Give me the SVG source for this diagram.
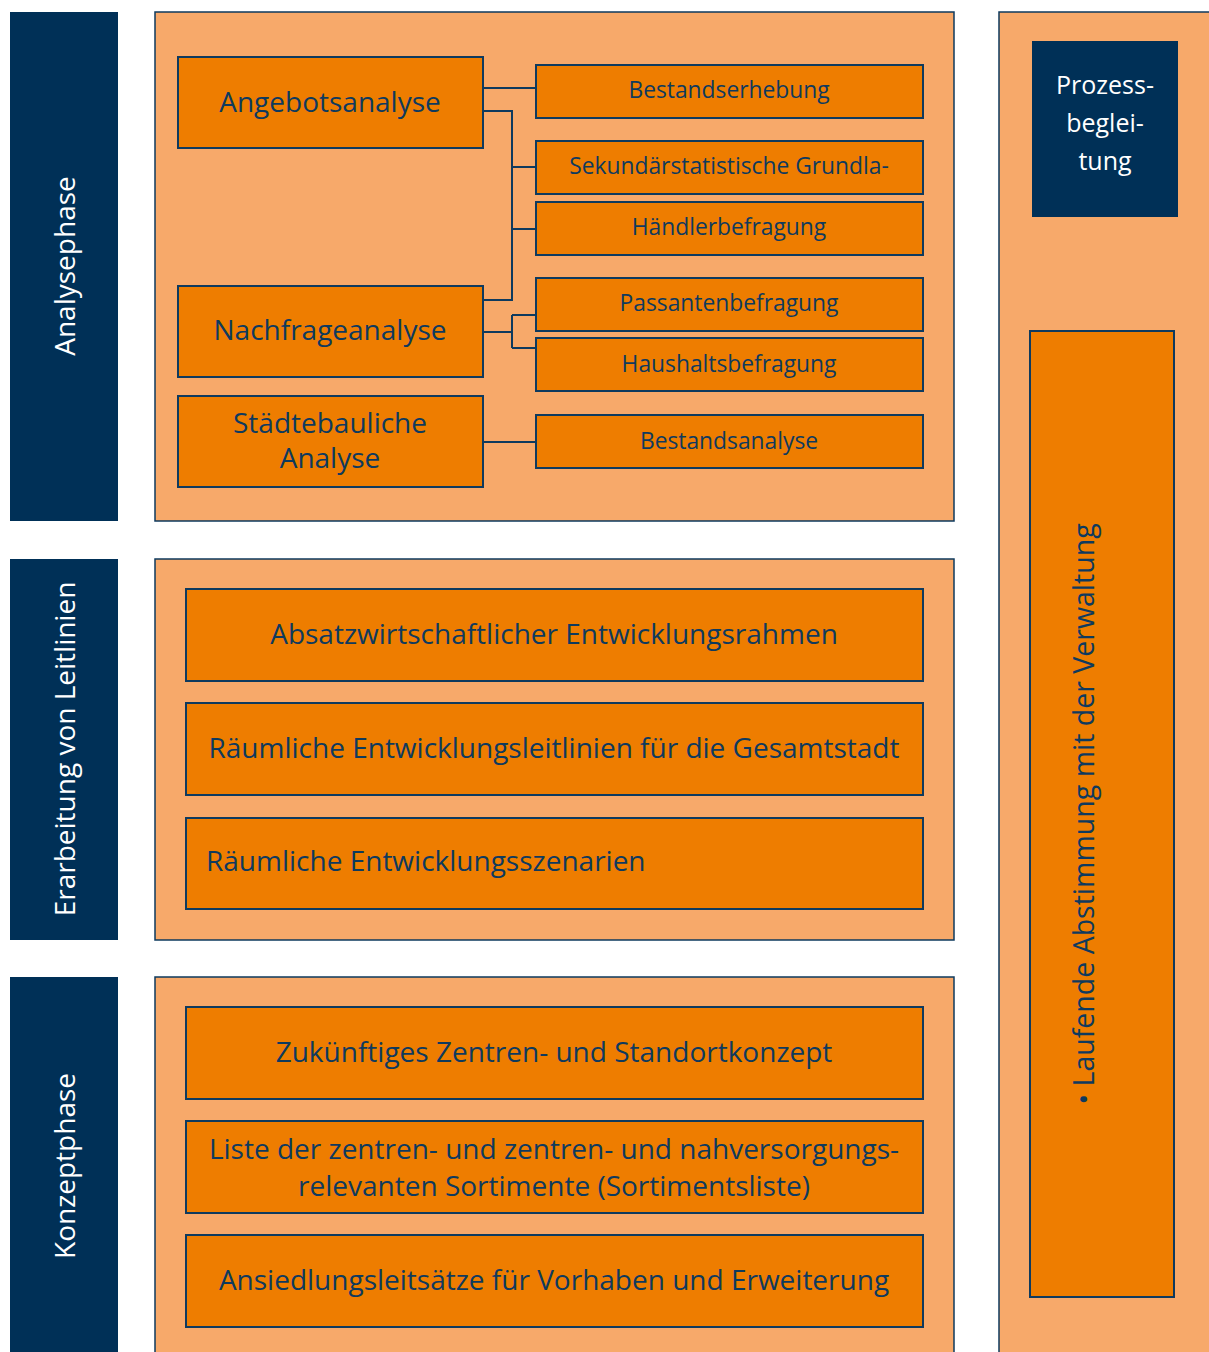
<svg xmlns="http://www.w3.org/2000/svg" width="1209" height="1352" viewBox="0 0 1209 1352">
<style>
.bar{fill:#003057}
.panel{fill:#F7A96A;stroke:#0E3A5E;stroke-width:1.5}
.box{fill:#EE7D00;stroke:#0E3A5E;stroke-width:2}
.conn{fill:none;stroke:#0E3A5E;stroke-width:2}
text{font-family:"Open Sans","Noto Sans",sans-serif}
.w{fill:#FFFFFF;font-size:28px}
.t{fill:#0E3A5E;text-anchor:middle;dominant-baseline:central}
.big{font-size:28px}
.sm{font-size:22.8px}
</style>
<rect width="1209" height="1352" fill="#FFFFFF"/>
<g id="phase-analyse"><rect class="bar" x="10" y="12" width="108" height="509"/><text class="w" transform="translate(64,266) rotate(-90)" text-anchor="middle" dominant-baseline="central">Analysephase</text></g>
<g id="phase-leitlinien"><rect class="bar" x="10" y="559" width="108" height="381"/><text class="w" transform="translate(64,749) rotate(-90)" text-anchor="middle" dominant-baseline="central">Erarbeitung von Leitlinien</text></g>
<g id="phase-konzept"><rect class="bar" x="10" y="977" width="108" height="380"/><text class="w" transform="translate(64,1166) rotate(-90)" text-anchor="middle" dominant-baseline="central">Konzeptphase</text></g>
<g id="panel-analyse"><rect class="panel" x="155" y="12" width="799" height="509"/></g>
<g id="panel-leitlinien"><rect class="panel" x="155" y="559" width="799" height="381"/></g>
<g id="panel-konzept"><rect class="panel" x="155" y="977" width="799" height="380"/></g>
<g id="panel-right"><rect class="panel" x="999" y="12" width="215" height="1345"/></g>
<g id="prozess"><rect class="bar" x="1032" y="41" width="146" height="176"/>
<text class="w" text-anchor="middle" dominant-baseline="central" style="font-size:25px"><tspan x="1105" y="84">Prozess-</tspan><tspan x="1105" y="122">beglei-</tspan><tspan x="1105" y="160">tung</tspan></text></g>
<g id="laufende"><rect class="box" x="1030" y="331" width="144" height="966"/><text class="t" transform="translate(1083,814) rotate(-90)" style="font-size:28.5px">• Laufende Abstimmung mit der Verwaltung</text></g>
<g id="connectors">
<path class="conn" d="M483 88H536"/>
<path class="conn" d="M483 111H512V300H483"/>
<path class="conn" d="M512 167H536M512 229H536"/>
<path class="conn" d="M483 332H512M512 315V348M512 315H536M512 348H536"/>
<path class="conn" d="M483 442H536"/>
</g>
<g id="angebotsanalyse"><rect class="box" x="178" y="57" width="305" height="91"/><text class="t big" x="330" y="101">Angebotsanalyse</text></g>
<g id="nachfrageanalyse"><rect class="box" x="178" y="286" width="305" height="91"/><text class="t big" x="330" y="329">Nachfrageanalyse</text></g>
<g id="staedtebau"><rect class="box" x="178" y="396" width="305" height="91"/><text class="t big"><tspan x="330" y="422">Städtebauliche</tspan><tspan x="330" y="457">Analyse</tspan></text></g>
<g id="bestandserhebung"><rect class="box" x="536" y="65" width="387" height="53"/><text class="t sm" x="729" y="89">Bestandserhebung</text></g>
<g id="sekundaer"><rect class="box" x="536" y="141" width="387" height="53"/><text class="t sm" x="729" y="165">Sekundärstatistische Grundla-</text></g>
<g id="haendler"><rect class="box" x="536" y="202" width="387" height="53"/><text class="t sm" x="729" y="226">Händlerbefragung</text></g>
<g id="passanten"><rect class="box" x="536" y="278" width="387" height="53"/><text class="t sm" x="729" y="302">Passantenbefragung</text></g>
<g id="haushalts"><rect class="box" x="536" y="338" width="387" height="53"/><text class="t sm" x="729" y="363">Haushaltsbefragung</text></g>
<g id="bestandsanalyse"><rect class="box" x="536" y="415" width="387" height="53"/><text class="t sm" x="729" y="440">Bestandsanalyse</text></g>
<g id="absatz"><rect class="box" x="186" y="589" width="737" height="92"/><text class="t big" x="554" y="633">Absatzwirtschaftlicher Entwicklungsrahmen</text></g>
<g id="raeumlich-leit"><rect class="box" x="186" y="703" width="737" height="92"/><text class="t big" x="554" y="747">Räumliche Entwicklungsleitlinien für die Gesamtstadt</text></g>
<g id="szenarien"><rect class="box" x="186" y="818" width="737" height="91"/><text class="t big" x="206" y="860" style="text-anchor:start">Räumliche Entwicklungsszenarien</text></g>
<g id="zentren"><rect class="box" x="186" y="1007" width="737" height="92"/><text class="t big" x="554" y="1051">Zukünftiges Zentren- und Standortkonzept</text></g>
<g id="liste"><rect class="box" x="186" y="1121" width="737" height="92"/><text class="t big"><tspan x="554" y="1148">Liste der zentren- und zentren- und nahversorgungs-</tspan><tspan x="554" y="1185">relevanten Sortimente (Sortimentsliste)</tspan></text></g>
<g id="ansiedlung"><rect class="box" x="186" y="1235" width="737" height="92"/><text class="t big" x="554" y="1279">Ansiedlungsleitsätze für Vorhaben und Erweiterung</text></g>
</svg>
